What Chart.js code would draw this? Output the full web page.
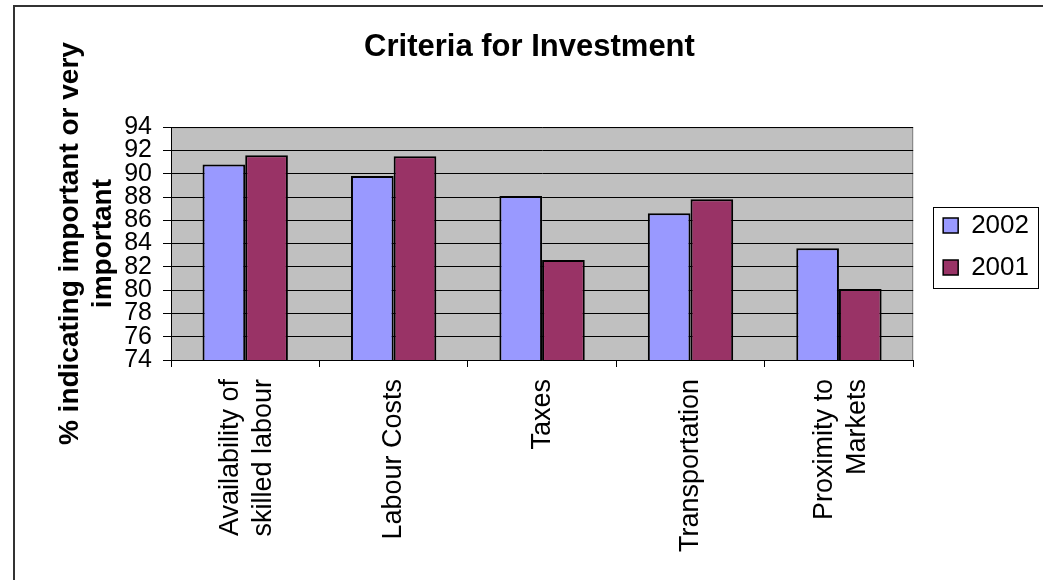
<!DOCTYPE html>
<html>
<head>
<meta charset="utf-8">
<script src="https://cdn.jsdelivr.net/npm/chart.js@4.4.1/dist/chart.umd.min.js"></script>
<style>
  html, body { margin: 0; padding: 0; background: #fff; }
  #wrap { width: 1043px; height: 580px; position: relative; }
</style>
</head>
<body>
<div id="wrap"><canvas id="chart" width="1043" height="580"></canvas></div>
<script>
// valores
const categories = [['Availability of', 'skilled labour'], 'Labour Costs', 'Taxes', 'Transportation', ['Proximity to', 'Markets']];
const values2002 = [90.8, 89.8, 88.1, 86.6, 83.6];
const values2001 = [91.6, 91.5, 82.6, 87.8, 80.1];
const yMin = 74;
const yMax = 94;
const yStep = 2;

const FONT = "'Liberation Sans', Arial, sans-serif";

// fundo cinza da área do gráfico, moldura externa e caixa da legenda
const plotBg = {
    id: 'plotBg',
    afterUpdate(chart) {
        // empurra a legenda um pouco para a direita e para baixo (como no original)
        const lg = chart.legend;
        const dx = 14, dy = 3;
        lg.left += dx;
        lg.right += dx;
        lg.top += dy;
        lg.bottom += dy;
        (lg.legendHitBoxes || []).forEach(b => { b.left += dx; b.top += dy; });
    },
    beforeDraw(chart) {
        const { ctx, chartArea: a } = chart;
        // rótulos de duas linhas centralizados no tick
        const xs = chart.scales.x;
        xs.getLabelItems().forEach(item => {
            if (Array.isArray(item.label) && !item._shifted) {
                item.options.translation[0] -= item.font.lineHeight / 2 - 2;
                item._shifted = true;
            }
        });
        ctx.save();
        ctx.fillStyle = '#C0C0C0';
        ctx.fillRect(a.left, a.top, a.right - a.left, a.bottom - a.top);
        ctx.strokeStyle = '#808080';
        ctx.lineWidth = 1;
        ctx.beginPath();
        ctx.moveTo(a.left, a.top + 0.5);
        ctx.lineTo(a.right - 0.5, a.top + 0.5);
        ctx.lineTo(a.right - 0.5, a.bottom);
        ctx.stroke();
        ctx.restore();
    },
    afterDraw(chart) {
        const { ctx } = chart;
        ctx.save();
        // moldura
        ctx.strokeStyle = '#333';
        ctx.lineWidth = 2;
        ctx.beginPath();
        ctx.moveTo(14, 580);
        ctx.lineTo(14, 6);
        ctx.lineTo(1043, 6);
        ctx.stroke();
        // caixa da legenda
        const boxes = chart.legend.legendHitBoxes;
        if (boxes && boxes.length) {
            const first = boxes[0], last = boxes[boxes.length - 1];
            let right = 0;
            boxes.forEach(b => { right = Math.max(right, b.left + b.width); });
            ctx.strokeStyle = '#000';
            ctx.lineWidth = 1;
            ctx.strokeRect(Math.round(first.left) - 9.5, Math.round(first.top) - 5.5,
                Math.round(right - first.left) + 19, Math.round(last.top + last.height - first.top) + 13);
        }
        ctx.restore();
    }
};

const ctx = document.getElementById('chart').getContext('2d');
new Chart(ctx, {
    type: 'bar',
    data: {
        labels: categories,
        datasets: [
            {
                label: '2002',
                data: values2002,
                backgroundColor: '#9999FF',
                borderColor: '#000',
                borderWidth: 2,
                borderSkipped: 'bottom'
            },
            {
                label: '2001',
                data: values2001,
                backgroundColor: '#993366',
                borderColor: '#000',
                borderWidth: 2,
                borderSkipped: 'bottom'
            }
        ]
    },
    options: {
        responsive: false,
        animation: false,
        devicePixelRatio: 1,
        layout: { padding: { left: 34, right: 18, top: 0, bottom: 0 } },
        datasets: { bar: { barPercentage: 1, categoryPercentage: 0.575 } },
        plugins: {
            title: {
                display: true,
                text: 'Criteria for Investment',
                color: '#000',
                font: { family: FONT, size: 31, weight: 'bold' },
                padding: { top: 29, bottom: 61 }
            },
            legend: {
                position: 'right',
                fullSize: false,
                labels: {
                    color: '#000',
                    font: { family: FONT, size: 26 },
                    boxWidth: 15,
                    boxHeight: 15,
                    padding: 16,
                    generateLabels(chart) {
                        return chart.data.datasets.map((ds, i) => ({
                            text: ds.label,
                            fillStyle: ds.backgroundColor,
                            strokeStyle: '#000',
                            lineWidth: 1.5,
                            datasetIndex: i,
                            fontColor: '#000'
                        }));
                    }
                }
            },
            tooltip: { enabled: false }
        },
        scales: {
            y: {
                min: yMin,
                max: yMax,
                afterFit(scale) { scale.width = 137; },
                ticks: {
                    stepSize: yStep,
                    autoSkip: false,
                    color: '#000',
                    padding: 11,
                    font: { family: FONT, size: 25 }
                },
                grid: { color: '#000', lineWidth: 1, tickLength: 8 },
                border: { color: '#000', width: 1 },
                title: {
                    display: true,
                    text: ['% indicating important or very', 'important'],
                    color: '#000',
                    font: { family: FONT, size: 28, weight: 'bold' },
                    padding: { top: 19, bottom: 0 }
                }
            },
            x: {
                afterFit(scale) { scale.height = 220; },
                ticks: {
                    maxRotation: 90,
                    minRotation: 90,
                    autoSkip: false,
                    color: '#000',
                    padding: 12,
                    font: { family: FONT, size: 27 }
                },
                grid: { display: true, drawOnChartArea: false, offset: true, color: '#000', tickLength: 7 },
                border: { color: '#000', width: 1 }
            }
        }
    },
    plugins: [plotBg]
});
</script>
</body>
</html>
